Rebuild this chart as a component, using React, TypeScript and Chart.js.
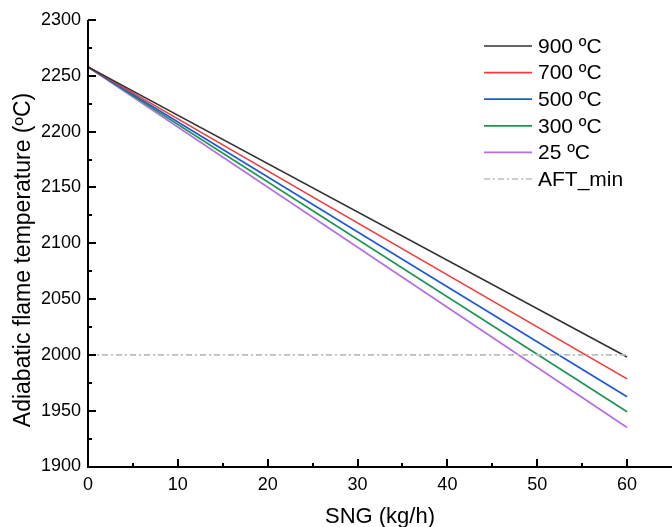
import React, { useEffect, useRef } from "react";
import { Chart, registerables } from "chart.js";

Chart.register(...registerables);

const SNG = [0, 60];
const T900 = [2258, 1998];
const T700 = [2258, 1978.5];
const T500 = [2258, 1962.5];
const T300 = [2258, 1949];
const T25 = [2258, 1935];
const AFT_X = [0, 60];
const AFT_MIN = [2000, 2000];

const X_TICKS = [0, 10, 20, 30, 40, 50, 60];
const X_MINOR = [5, 15, 25, 35, 45, 55];
const Y_TICKS = [1900, 1950, 2000, 2050, 2100, 2150, 2200, 2250, 2300];
const Y_MINOR = [1925, 1975, 2025, 2075, 2125, 2175, 2225, 2275];

const LABELS = ["900 ºC", "700 ºC", "500 ºC", "300 ºC", "25 ºC", "AFT_min"];
const COLORS = ["#333333", "#f03c3c", "#1e5ad2", "#1e9650", "#b46ee6", "#bdbdbd"];
const DASH = [6, 3, 2, 3];

const FONT = "'Liberation Sans', Arial, sans-serif";

export default function App() {
  const ref = useRef<HTMLCanvasElement | null>(null);
  useEffect(() => {
    document.body.style.margin = "0";
    const canvas = ref.current!;
    const series = [T900, T700, T500, T300, T25];
    const datasets: any[] = series.map((s, i) => ({
      label: LABELS[i],
      data: SNG.map((x, j) => ({ x, y: s[j] })),
      borderColor: COLORS[i],
      borderWidth: 1.7,
      pointRadius: 0,
      fill: false,
    }));
    datasets.unshift({
      label: LABELS[5],
      data: AFT_X.map((x, j) => ({ x, y: AFT_MIN[j] })),
      borderColor: COLORS[5],
      borderWidth: 1.7,
      borderDash: DASH,
      pointRadius: 0,
      fill: false,
    });

    const decor = {
      id: "decor",
      afterDraw(chart: any) {
        const ctx = chart.ctx;
        const xs = chart.scales.x;
        const ys = chart.scales.y;
        const x0 = Math.round(xs.left);
        const yb = Math.round(ys.bottom);
        ctx.save();
        ctx.strokeStyle = "#000";
        ctx.lineWidth = 2;
        ctx.beginPath();
        ctx.moveTo(x0, ys.top);
        ctx.lineTo(x0, yb);
        ctx.lineTo(xs.right, yb);
        ctx.stroke();
        ctx.beginPath();
        X_TICKS.forEach((v) => {
          const p = Math.round(xs.getPixelForValue(v));
          ctx.moveTo(p, yb);
          ctx.lineTo(p, yb - 8);
        });
        X_MINOR.forEach((v) => {
          const p = Math.round(xs.getPixelForValue(v));
          ctx.moveTo(p, yb);
          ctx.lineTo(p, yb - 4);
        });
        Y_TICKS.forEach((v) => {
          const p = Math.round(ys.getPixelForValue(v));
          ctx.moveTo(x0, p);
          ctx.lineTo(x0 + 8, p);
        });
        Y_MINOR.forEach((v) => {
          const p = Math.round(ys.getPixelForValue(v));
          ctx.moveTo(x0, p);
          ctx.lineTo(x0 + 4, p);
        });
        ctx.stroke();

        // axis titles
        ctx.fillStyle = "#000";
        ctx.textAlign = "center";
        ctx.textBaseline = "middle";
        ctx.font = `22px ${FONT}`;
        ctx.fillText("SNG (kg/h)", (xs.left + xs.right) / 2, 517);
        ctx.save();
        ctx.translate(24, 260);
        ctx.rotate(-Math.PI / 2);
        ctx.font = `23px ${FONT}`;
        ctx.fillText("Adiabatic flame temperature (ºC)", 0, 0);
        ctx.restore();

        // legend
        ctx.font = `21px ${FONT}`;
        ctx.textAlign = "left";
        [0, 1, 2, 3, 4, 5].forEach((k, i) => {
          const y = 46 + i * 26.6;
          ctx.beginPath();
          ctx.strokeStyle = COLORS[k];
          ctx.lineWidth = 1.7;
          ctx.setLineDash(k === 5 ? DASH : []);
          ctx.moveTo(484, y);
          ctx.lineTo(532, y);
          ctx.stroke();
          ctx.setLineDash([]);
          ctx.fillStyle = "#000";
          ctx.fillText(LABELS[k], 538, y + 1);
        });
        ctx.restore();
      },
    };

    const chart = new Chart(canvas, {
      type: "line",
      data: { datasets },
      plugins: [decor],
      options: {
        animation: false,
        responsive: false,
        maintainAspectRatio: false,
        layout: { padding: { top: 20, right: 0, left: 0, bottom: 0 } },
        plugins: { legend: { display: false }, tooltip: { enabled: false } },
        scales: {
          x: {
            type: "linear",
            min: 0,
            max: 65,
            afterBuildTicks: (s: any) => {
              s.ticks = X_TICKS.map((v) => ({ value: v }));
            },
            afterFit: (s: any) => {
              s.height = 60.5;
            },
            grid: { display: false, drawTicks: false },
            border: { display: false },
            ticks: {
              padding: 8,
              color: "#000",
              font: { size: 18, family: FONT },
              maxRotation: 0,
              callback: (v: any) => String(v),
            },
          },
          y: {
            type: "linear",
            min: 1900,
            max: 2300,
            afterBuildTicks: (s: any) => {
              s.ticks = Y_TICKS.map((v) => ({ value: v }));
            },
            afterFit: (s: any) => {
              s.width = 88;
            },
            grid: { display: false, drawTicks: false },
            border: { display: false },
            ticks: {
              padding: 7,
              color: "#000",
              font: { size: 18, family: FONT },
              callback: (v: any) => String(v),
            },
          },
        },
      },
    });
    return () => chart.destroy();
  }, []);
  return <canvas ref={ref} width={672} height={527} style={{ display: "block" }} />;
}
